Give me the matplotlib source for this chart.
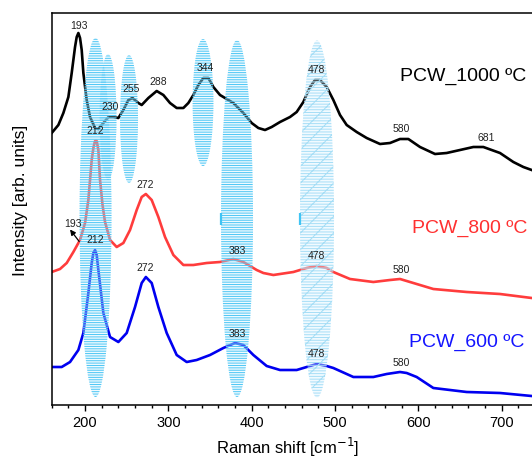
import numpy as np
import matplotlib
matplotlib.use("Agg")
import matplotlib.pyplot as plt
from matplotlib.patches import Ellipse

plt.rcParams['font.family'] = ['Liberation Sans', 'DejaVu Sans']
plt.rcParams['hatch.linewidth'] = 0.7

# ---------------- data ----------------
x_1000 = [160, 168, 174, 180, 184, 186, 188, 190, 192, 194, 196, 198, 202, 206, 212, 216, 222, 228, 234,
          240, 246, 252, 257, 264, 268, 276, 286, 294, 302, 310, 318, 324, 330, 336, 342, 348, 354,
          362, 368, 378, 390, 400, 408, 416, 424, 434, 446, 454, 462, 470, 476, 482, 490, 498, 506,
          514, 526, 538, 554, 566, 578, 588, 602, 620, 634, 650, 666, 678, 698, 714, 726, 736, 745]
y_1000 = [272, 280, 292, 308, 332, 345, 358, 368, 372, 367, 355, 332, 305, 288, 277, 276, 282, 288, 288,
          287, 295, 305, 307, 302, 300, 307, 314, 310, 302, 297, 297, 302, 310, 320, 327, 327, 318,
          310, 307, 302, 292, 282, 277, 275, 278, 283, 288, 293, 303, 318, 325, 325, 318, 305, 290,
          280, 273, 267, 261, 262, 266, 266, 258, 251, 252, 255, 258, 258, 252, 243, 238, 235, 232]

x_800 = [160, 170, 178, 186, 194, 200, 204, 208, 210, 212, 214, 216, 218, 221, 224, 230, 238, 246,
         254, 262, 268, 273, 280, 288, 296, 306, 318, 330, 346, 362, 378, 390, 406, 414, 426, 450,
         466, 478, 490, 498, 518, 546, 566, 578, 594, 618, 658, 698, 736, 745]
y_800 = [133, 136, 142, 153, 165, 182, 205, 245, 257, 264, 264, 255, 225, 200, 183, 165, 158, 162,
         175, 195, 208, 211, 205, 188, 168, 150, 140, 140, 142, 143, 146, 143, 135, 132, 130, 133,
         137, 139, 137, 133, 126, 123, 125, 126, 122, 116, 113, 111, 107, 106]

x_600 = [160, 172, 182, 192, 198, 204, 208, 210, 212, 214, 216, 222, 230, 240, 250, 260, 268, 273,
         280, 288, 298, 310, 322, 334, 350, 366, 380, 390, 402, 418, 434, 454, 466, 478, 490, 498,
         522, 546, 562, 578, 586, 598, 618, 658, 698, 736, 745]
y_600 = [38, 38, 43, 55, 72, 112, 142, 152, 155, 150, 135, 92, 68, 63, 72, 98, 122, 128,
         122, 98, 72, 50, 43, 45, 50, 57, 62, 60, 50, 39, 35, 35, 38, 41, 39, 37,
         28, 28, 31, 33, 32, 28, 17, 13, 12, 9, 8]

peaks_1000 = [193, 230, 255, 288, 344, 478, 580, 681]
peaks_800 = [212, 272, 383, 478, 580]
peaks_600 = [212, 272, 383, 478, 580]

series_names = ['PCW_1000 ºC', 'PCW_800 ºC', 'PCW_600 ºC']

# highlighted bands (centre x, centre y, width, height)
ell_x = [212.6, 227.6, 252.8, 341.6, 382.4, 478.4]
ell_y = [187.5, 288, 286, 302.5, 186.5, 186]
ell_w = [38.4, 20.4, 21.6, 25, 38.4, 40.8]
ell_h = [359, 126, 128, 127, 357, 357]

# ---------------- figure ----------------
W, H = 532, 459
fig = plt.figure(figsize=(W / 100, H / 100), dpi=100)
ax = fig.add_axes([51.7 / W, (H - 405) / H, 533.3 / W, 392 / H])
ax.set_xlim(160, 800)
ax.set_ylim(0, 392)

c_black, c_red, c_blue = '#000000', '#FF3C3C', '#0000F0'

ax.plot(x_1000, y_1000, color=c_black, lw=1.9, solid_joinstyle='round', zorder=2)
ax.plot(x_800, y_800, color=c_red, lw=1.9, solid_joinstyle='round', zorder=2)
ax.plot(x_600, y_600, color=c_blue, lw=1.9, solid_joinstyle='round', zorder=2)

for i, (cx, cy, w, h) in enumerate(zip(ell_x, ell_y, ell_w, ell_h)):
    if i == 5:
        e = Ellipse((cx, cy), w, h, facecolor=(0.85, 0.95, 1.0, 0.35),
                    edgecolor='#A6DEF6', hatch='------//', lw=0, zorder=3)
    else:
        e = Ellipse((cx, cy), w, h, facecolor=(0.80, 0.94, 1.0, 0.30),
                    edgecolor='#4CC6F4', hatch='-------', lw=0, zorder=3)
    ax.add_patch(e)

# small handle marks at left edges of two bands
for i in (4, 5):
    hx = ell_x[i] - ell_w[i] / 2
    ax.plot([hx, hx], [ell_y[i] - 6, ell_y[i] + 6], color='#40C4F4', lw=1.6,
            solid_capstyle='butt', zorder=3)

# peak labels
for xs, ys, pk in ((x_1000, y_1000, peaks_1000), (x_800, y_800, peaks_800), (x_600, y_600, peaks_600)):
    for p in pk:
        yp = np.interp(p, xs, ys)
        ax.annotate(str(p), xy=(p, yp), xytext=(0, 7), textcoords='offset points',
                    ha='center', va='center', fontsize=7.5, color='#222222', zorder=5)

# 193 arrow on red curve
y193 = np.interp(193, x_800, y_800)
ax.annotate('', xy=(182, y193 + 12), xytext=(193, y193),
            arrowprops=dict(arrowstyle='-|>', color='black', lw=0.9, mutation_scale=8,
                            shrinkA=0, shrinkB=0), zorder=5)
ax.annotate('193', xy=(193, y193), xytext=(-4.8, 12.8), textcoords='offset points',
            ha='center', va='center', fontsize=7.5, color='#222222', zorder=5)

# series names
ax.text(578, 329, series_names[0], fontsize=14, color='black', va='center', ha='left', zorder=6)
ax.text(592, 177, series_names[1], fontsize=14, color='#FF3030', va='center', ha='left', zorder=6)
ax.text(589, 63, series_names[2], fontsize=14, color='#1414FF', va='center', ha='left', zorder=6)

# axes styling
for s in ax.spines.values():
    s.set_linewidth(1.1)
ax.set_yticks([])
ax.set_xticks([200, 300, 400, 500, 600, 700])
ax.set_xticks(np.arange(160, 800, 20), minor=True)
ax.tick_params(axis='x', which='major', direction='out', length=4, width=1, labelsize=10.5, pad=4)
ax.tick_params(axis='x', which='minor', direction='out', length=2.5, width=1)
ax.set_xlabel('Raman shift [cm$^{-1}$]', fontsize=12)
ax.xaxis.set_label_coords(0.443, -0.080)
ax.set_ylabel('Intensity [arb. units]', fontsize=12.5)
ax.yaxis.set_label_coords(-0.045, 0.523)

fig.savefig('out.png', dpi=100)
